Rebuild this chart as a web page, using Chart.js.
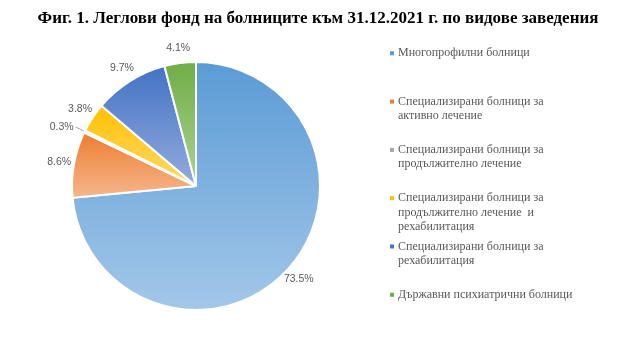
<!DOCTYPE html>
<html>
<head>
<meta charset="utf-8">
<script src="https://cdn.jsdelivr.net/npm/chart.js@4.4.1/dist/chart.umd.min.js"></script>
<style>
  html, body { margin: 0; padding: 0; background: #fff; }
</style>
</head>
<body>
<canvas id="myChart" width="639" height="352"></canvas>
<script>
const titleText = "Фиг. 1. Леглови фонд на болниците към 31.12.2021 г. по видове заведения";

const categories = [
  "Многопрофилни болници",
  "Специализирани болници за активно лечение",
  "Специализирани болници за продължително лечение",
  "Специализирани болници за продължително лечение  и рехабилитация",
  "Специализирани болници за рехабилитация",
  "Държавни психиатрични болници"
];
// legend text, wrapped the way the reference wraps it
const legendLines = [
  ["Многопрофилни болници"],
  ["Специализирани болници за", "активно лечение"],
  ["Специализирани болници за", "продължително лечение"],
  ["Специализирани болници за", "продължително лечение  и", "рехабилитация"],
  ["Специализирани болници за", "рехабилитация"],
  ["Държавни психиатрични болници"]
];
const shares = [73.5, 8.6, 0.3, 3.8, 9.7, 4.1];

const topColors = ["#5b9bd5", "#ed7d31", "#a5a5a5", "#ffc000", "#4472c4", "#70ad47"];
const bottomColors = ["#a3c7e9", "#f5b68c", "#cccccc", "#ffda6e", "#93acdd", "#acd392"];

const RADIUS = 124;

// vertical gradient over each slice's own bounding box
function sliceGradient(context) {
  const chart = context.chart,
    area = chart.chartArea,
    i = context.dataIndex;
  if (!area || i === undefined) return topColors[i || 0];
  const cy = (area.top + area.bottom) / 2;
  const total = shares.reduce((a, b) => a + b, 0);
  let start = 0;
  for (let k = 0; k < i; k++) start += shares[k];
  const a0 = (start / total) * 2 * Math.PI,
    a1 = ((start + shares[i]) / total) * 2 * Math.PI;
  let ys = [0, -Math.cos(a0), -Math.cos(a1)];
  if (a0 <= Math.PI && a1 >= Math.PI) ys.push(1);
  if (a0 <= 0 || a1 >= 2 * Math.PI) ys.push(-1);
  const y0 = cy + RADIUS * Math.min(...ys),
    y1 = cy + RADIUS * Math.max(...ys);
  const g = chart.ctx.createLinearGradient(0, y0, 0, y1);
  g.addColorStop(0, topColors[i]);
  g.addColorStop(1, bottomColors[i]);
  return g;
}

const decorPlugin = {
  id: "decor",
  afterDraw(chart) {
    const ctx = chart.ctx;
    ctx.save();
    // title
    ctx.fillStyle = "#000";
    ctx.font = "bold 17px 'Liberation Serif'";
    ctx.textAlign = "center";
    ctx.textBaseline = "middle";
    ctx.fillText(titleText, 318, 19);

    // percentage labels
    const meta = chart.getDatasetMeta(0);
    ctx.font = "10.5px 'Liberation Sans'";
    ctx.fillStyle = "#595959";
    meta.data.forEach((arc, i) => {
      const p = arc.getProps(["x", "y", "startAngle", "endAngle", "outerRadius"], true);
      const mid = (p.startAngle + p.endAngle) / 2;
      const label = shares[i].toFixed(1) + "%";
      if (shares[i] < 1) {
        const ex = p.x + Math.cos(mid) * (p.outerRadius + 1),
          ey = p.y + Math.sin(mid) * (p.outerRadius + 1);
        const lx = p.x + Math.cos(mid) * (p.outerRadius + 10),
          ly = p.y + Math.sin(mid) * (p.outerRadius + 10);
        ctx.strokeStyle = "#a6a6a6";
        ctx.lineWidth = 1;
        ctx.beginPath();
        ctx.moveTo(ex, ey);
        ctx.lineTo(lx, ly);
        ctx.stroke();
        ctx.textAlign = "right";
        ctx.fillText(label, lx - 2, ly);
      } else {
        const d = p.outerRadius + 15;
        ctx.textAlign = "center";
        ctx.fillText(label, p.x + Math.cos(mid) * d, p.y + Math.sin(mid) * d);
      }
    });

    // legend
    ctx.font = "12px 'Liberation Serif'";
    ctx.textAlign = "left";
    legendLines.forEach((lines, i) => {
      const y = 53.3 + 48.3 * i;
      ctx.fillStyle = topColors[i];
      ctx.fillRect(390, y - 2, 4, 4);
      ctx.fillStyle = "#595959";
      lines.forEach((t, j) => ctx.fillText(t, 398, y + 14.3 * j));
    });
    ctx.restore();
  }
};

new Chart("myChart", {
  type: "pie",
  data: {
    labels: categories,
    datasets: [
      {
        data: shares,
        backgroundColor: sliceGradient,
        borderColor: "#ffffff",
        borderWidth: 2,
        hoverOffset: 0,
        offset: 0
      }
    ]
  },
  options: {
    responsive: false,
    animation: false,
    radius: RADIUS,
    layout: { padding: { left: 50, right: 297, top: 40, bottom: 20 } },
    plugins: {
      legend: { display: false },
      title: { display: false },
      tooltip: { enabled: false }
    }
  },
  plugins: [decorPlugin]
});
</script>
</body>
</html>
